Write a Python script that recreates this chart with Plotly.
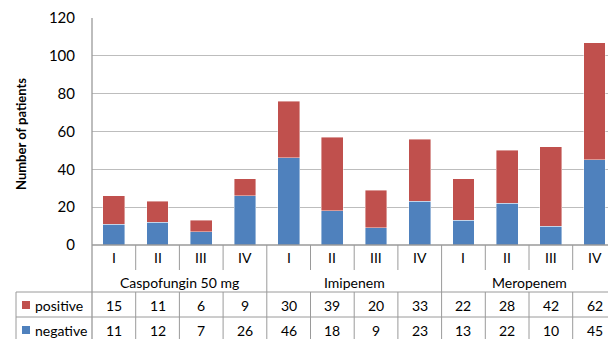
import plotly.graph_objects as go

stages = ["I", "II", "III", "IV"]
groups = ["Caspofungin 50 mg", "Imipenem", "Meropenem"]
positive = [15, 11, 6, 9, 30, 39, 20, 33, 22, 28, 42, 62]
negative = [11, 12, 7, 26, 46, 18, 9, 23, 13, 22, 10, 45]
y_ticks = [0, 20, 40, 60, 80, 100, 120]

RED = "#C0504D"
BLUE = "#4F81BD"
LINE = "#9A9A9A"
GRID = "#BDBDBD"
FONT = "Lato"

W, H = 608, 339
L, R, T, B = 92, 0, 18, 94
plot_w = W - L - R
plot_h = H - T - B
cat_w = 43.7
x_max = -0.5 + plot_w / cat_w

n = len(positive)
xs = list(range(n))


def py(p):
    return (H - B - p) / plot_h


def px(p):
    return (p - L) / plot_w


fig = go.Figure()
fig.add_trace(go.Bar(x=xs, y=negative, name="negative", marker=dict(color=BLUE, line=dict(width=0.6, color="rgba(255,255,255,0.7)")), width=0.5))
fig.add_trace(go.Bar(x=xs, y=positive, name="positive", marker=dict(color=RED, line=dict(width=0.6, color="rgba(255,255,255,0.7)")), width=0.5))

shapes = []
ann = []

# left axis line extended through table
shapes.append(dict(type="line", xref="paper", yref="paper", x0=0, x1=0, y0=py(T), y1=py(H + 5), line=dict(color=LINE, width=1.3)))
# zero line
shapes.append(dict(type="line", xref="paper", yref="paper", x0=0, x1=1, y0=py(245), y1=py(245), line=dict(color=LINE, width=1.5)))
# table left border
shapes.append(dict(type="line", xref="paper", yref="paper", x0=px(16), x1=px(16), y0=py(292), y1=py(H + 5), line=dict(color=LINE, width=1)))
# horizontal row lines
for yy in (292, 317):
    shapes.append(dict(type="line", xref="paper", yref="paper", x0=px(16), x1=1, y0=py(yy), y1=py(yy), line=dict(color=LINE, width=1)))
# category boundaries
for k in range(1, n + 1):
    xb = k - 0.5
    if k % 4 == 0:
        shapes.append(dict(type="line", xref="x", yref="paper", x0=xb, x1=xb, y0=py(245), y1=py(H + 5), line=dict(color=LINE, width=1)))
    else:
        shapes.append(dict(type="line", xref="x", yref="paper", x0=xb, x1=xb, y0=py(245), y1=py(270), line=dict(color=LINE, width=1)))
        shapes.append(dict(type="line", xref="x", yref="paper", x0=xb, x1=xb, y0=py(292), y1=py(H + 5), line=dict(color=LINE, width=1)))

tf = dict(family=FONT, size=14, color="#000000")
C = dict(xanchor="center", yanchor="middle", showarrow=False, font=tf)
for i in range(n):
    ann.append(dict(x=i, y=py(257), xref="x", yref="paper", text=stages[i % 4], **C))
    ann.append(dict(x=i, y=py(305), xref="x", yref="paper", text=str(positive[i]), **C))
    ann.append(dict(x=i, y=py(330), xref="x", yref="paper", text=str(negative[i]), **C))
for g, name in enumerate(groups):
    ann.append(dict(x=g * 4 + 1.5, y=py(282), xref="x", yref="paper", text=name, **C))

# legend keys in table
for name, col, yc in (("positive", RED, 305), ("negative", BLUE, 330)):
    shapes.append(dict(type="rect", xref="paper", yref="paper", x0=px(22), x1=px(30), y0=py(yc - 4), y1=py(yc + 4), line=dict(width=0), fillcolor=col))
    ann.append(dict(x=px(33), y=py(yc), xref="paper", yref="paper", text=name, showarrow=False, xanchor="left", yanchor="middle", font=tf))

# y-axis title
ann.append(dict(x=px(21), y=py(134), xref="paper", yref="paper", text="<b>Number of patients</b>", textangle=-90,
                showarrow=False, xanchor="center", yanchor="middle", font=dict(family=FONT, size=13, color="#000000")))

fig.update_layout(
    width=W, height=H,
    margin=dict(l=L, r=R, t=T, b=B, autoexpand=False),
    barmode="stack",
    showlegend=False,
    plot_bgcolor="white", paper_bgcolor="white",
    shapes=shapes, annotations=ann,
    xaxis=dict(range=[-0.5, x_max], showticklabels=False, showgrid=False, zeroline=False, showline=False, ticks="", automargin=False),
    yaxis=dict(range=[0, 120], tickvals=y_ticks, showgrid=True, gridcolor=GRID, gridwidth=1.2, zeroline=False, automargin=False,
               showline=False, ticks="outside", ticklen=13, tickcolor="rgba(0,0,0,0)",
               tickfont=dict(family=FONT, size=15, color="#000000")),
)

fig.write_html("out.html", config={"displayModeBar": False},
               post_script="document.body.style.margin='0';document.body.style.overflow='hidden';")
